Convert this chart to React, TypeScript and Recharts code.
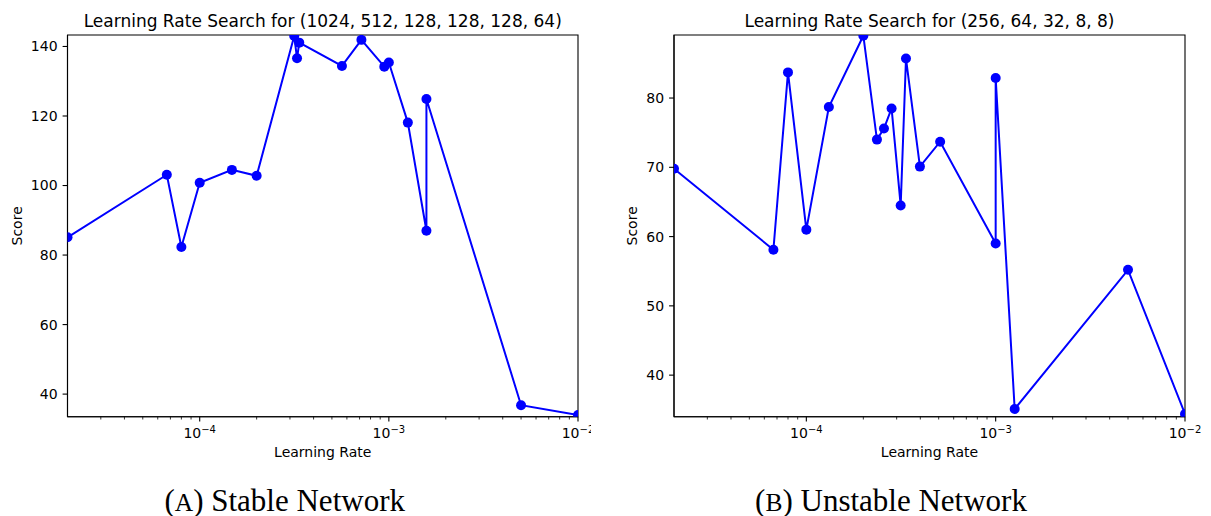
import React from 'react';
import { LineChart, Line, XAxis, YAxis, ReferenceArea } from 'recharts';

// ---- data ----
const stableLR = [2e-5, 6.7e-5, 8e-5, 1e-4, 1.48e-4, 2e-4, 3.16e-4, 3.27e-4, 3.36e-4, 5.65e-4, 7.16e-4, 9.46e-4, 1e-3, 1.26e-3, 1.58e-3, 1.58e-3, 5e-3, 1e-2];
const stableScore = [85.1, 103.1, 82.3, 100.8, 104.5, 102.8, 143.0, 136.6, 141.1, 134.4, 141.9, 134.2, 135.4, 118.1, 87.0, 124.9, 36.8, 34.0];

const unstableLR = [2e-5, 6.7e-5, 8e-5, 1e-4, 1.315e-4, 2e-4, 2.36e-4, 2.57e-4, 2.82e-4, 3.15e-4, 3.36e-4, 3.98e-4, 5.09e-4, 1e-3, 1e-3, 1.26e-3, 5e-3, 1e-2];
const unstableScore = [69.8, 58.1, 83.7, 61.0, 78.7, 89.0, 74.0, 75.6, 78.5, 64.5, 85.7, 70.1, 73.7, 59.0, 82.9, 35.1, 55.2, 34.4];

const xDomain = [2e-5, 1e-2];
const xMajorTicks = [1e-4, 1e-3, 1e-2];
const xMajorExp = ['\u22124', '\u22123', '\u22122'];
const xMinorTicks = [3e-5, 4e-5, 5e-5, 6e-5, 7e-5, 8e-5, 9e-5, 2e-4, 3e-4, 4e-4, 5e-4, 6e-4, 7e-4, 8e-4, 9e-4, 2e-3, 3e-3, 4e-3, 5e-3, 6e-3, 7e-3, 8e-3, 9e-3];

const stableYDomain = [33.5, 143.3];
const stableYTicks = [40, 60, 80, 100, 120, 140];
const unstableYDomain = [34.0, 89.1];
const unstableYTicks = [40, 50, 60, 70, 80];

const titleA = 'Learning Rate Search for (1024, 512, 128, 128, 128, 64)';
const titleB = 'Learning Rate Search for (256, 64, 32, 8, 8)';
const xLabel = 'Learning Rate';
const yLabel = 'Score';

const FONT = 'DejaVu Sans, sans-serif';
const BLUE = '#0000ff';

const stableData = stableLR.map((lr, i) => ({ lr, score: stableScore[i] }));
const unstableData = unstableLR.map((lr, i) => ({ lr, score: unstableScore[i] }));

const XTick = (props: any) => {
  const { x, y, payload } = props;
  const v = payload.value;
  const mi = xMajorTicks.indexOf(v);
  const major = mi >= 0;
  return (
    <g>
      <line x1={x} x2={x} y1={y} y2={y + (major ? 4.9 : 2.8)} stroke="#000" strokeWidth={major ? 1.1 : 0.8} />
      {major && (
        <text x={x} y={y + 21.6} textAnchor="middle" fontFamily={FONT} fontSize={14} fill="#000">
          10
          <tspan dy={-5} fontSize={10}>{xMajorExp[mi]}</tspan>
        </text>
      )}
    </g>
  );
};

const PLOT_TOP = 35;
const PLOT_BOTTOM = 416.7;
const CHART_H = 470;

function Panel({ data, width, plotLeft, plotRight, yDomain, yTicks }: any) {
  return (
    <LineChart
      width={width}
      height={CHART_H}
      data={data}
      margin={{ top: PLOT_TOP, right: width - plotRight, bottom: 0, left: 0 }}
    >
      <XAxis
        dataKey="lr"
        type="number"
        scale="log"
        domain={xDomain}
        allowDataOverflow
        ticks={[...xMinorTicks, ...xMajorTicks]}
        interval={0}
        tick={<XTick />}
        tickLine={false}
        tickSize={0}
        tickMargin={0}
        height={CHART_H - PLOT_BOTTOM}
        axisLine={{ stroke: '#000', strokeWidth: 1.1 }}
      />
      <YAxis
        type="number"
        domain={yDomain}
        allowDataOverflow
        ticks={yTicks}
        interval={0}
        width={plotLeft}
        tickSize={4.9}
        tickMargin={5}
        tick={{ fontSize: 14, fill: '#000', fontFamily: FONT }}
        tickLine={{ stroke: '#000', strokeWidth: 1.1 }}
        axisLine={{ stroke: '#000', strokeWidth: 1.1 }}
      />
      <ReferenceArea
        x1={xDomain[0]}
        x2={xDomain[1]}
        y1={yDomain[0]}
        y2={yDomain[1]}
        fill="none"
        fillOpacity={0}
        stroke="#000"
        strokeWidth={1.1}
        ifOverflow="visible"
      />
      <Line
        type="linear"
        dataKey="score"
        stroke={BLUE}
        strokeWidth={2}
        dot={{ r: 5, fill: BLUE, stroke: BLUE, strokeWidth: 0 }}
        activeDot={false}
        isAnimationActive={false}
      />
    </LineChart>
  );
}

export default function App() {
  const aLeft = 67.5, aRight = 578;
  const bOff = 600, bLeft = 674, bRight = 1185;
  const aMid = (aLeft + aRight) / 2;
  const bMid = (bLeft + bRight) / 2;
  const plotMidY = (PLOT_TOP + PLOT_BOTTOM) / 2;
  return (
    <div style={{ position: 'absolute', left: 0, top: 0, width: 1211, height: 516, background: '#fff', overflow: 'hidden' }}>
      <div style={{ position: 'absolute', left: 0, top: 0 }}>
        <Panel data={stableData} width={591} plotLeft={aLeft} plotRight={aRight} yDomain={stableYDomain} yTicks={stableYTicks} />
      </div>
      <div style={{ position: 'absolute', left: bOff, top: 0 }}>
        <Panel data={unstableData} width={611} plotLeft={bLeft - bOff} plotRight={bRight - bOff} yDomain={unstableYDomain} yTicks={unstableYTicks} />
      </div>
      <svg width={1211} height={516} style={{ position: 'absolute', left: 0, top: 0, pointerEvents: 'none' }}>
        <text x={aMid} y={27} textAnchor="middle" fontFamily={FONT} fontSize={17} fill="#000">{titleA}</text>
        <text x={bMid} y={27} textAnchor="middle" fontFamily={FONT} fontSize={17} fill="#000">{titleB}</text>
        <text x={aMid} y={457} textAnchor="middle" fontFamily={FONT} fontSize={14} fill="#000">{xLabel}</text>
        <text x={bMid} y={457} textAnchor="middle" fontFamily={FONT} fontSize={14} fill="#000">{xLabel}</text>
        <text x={0} y={0} transform={`translate(22, ${plotMidY}) rotate(-90)`} textAnchor="middle" fontFamily={FONT} fontSize={14} fill="#000">{yLabel}</text>
        <text x={0} y={0} transform={`translate(637, ${plotMidY}) rotate(-90)`} textAnchor="middle" fontFamily={FONT} fontSize={14} fill="#000">{yLabel}</text>
        <text x={284.7} y={511} textAnchor="middle" fontFamily="Liberation Serif, serif" fontSize={31} fill="#000">
          (<tspan fontSize={25.5}>A</tspan>) Stable Network
        </text>
        <text x={891} y={511} textAnchor="middle" fontFamily="Liberation Serif, serif" fontSize={31} fill="#000">
          (<tspan fontSize={25.5}>B</tspan>) Unstable Network
        </text>
      </svg>
    </div>
  );
}
